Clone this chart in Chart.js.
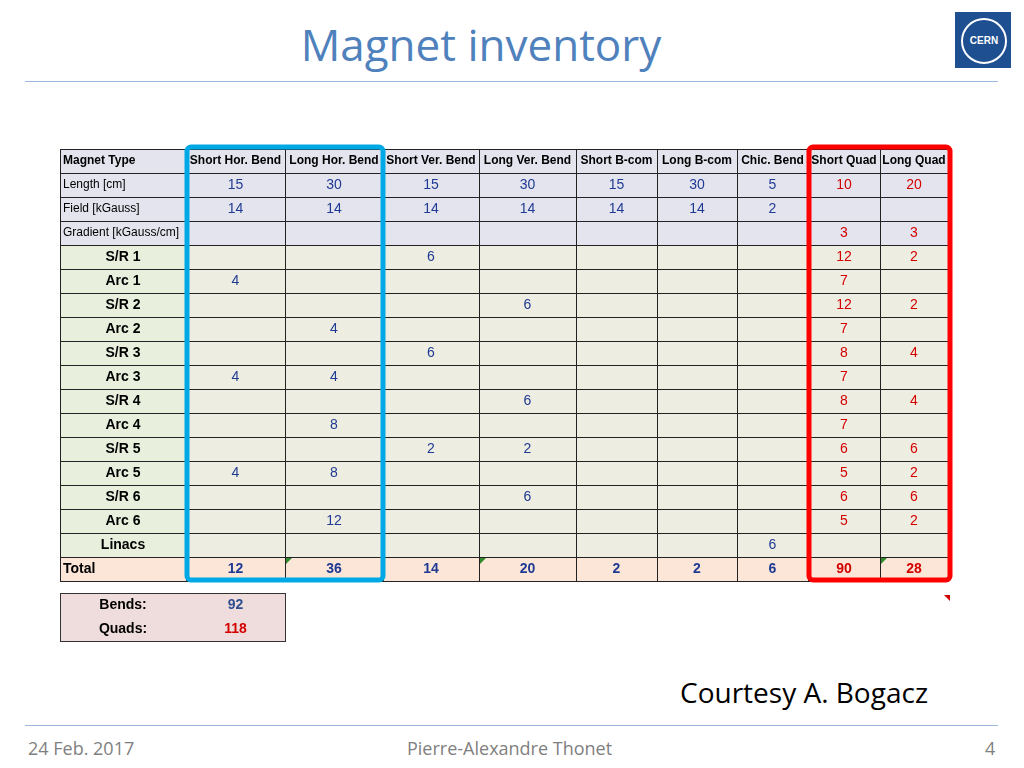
<!DOCTYPE html>
<html>
<head>
<meta charset="utf-8">
<script src="https://cdn.jsdelivr.net/npm/chart.js@4"></script>
<style>
  body { margin: 0; width: 1024px; height: 768px; background: #fff; font-family: "Open Sans", sans-serif; position: relative; overflow: hidden; }
  #wrap { position: absolute; left: 0; top: 0; width: 1024px; height: 768px; }
  .title { position: absolute; left: 0; width: 962px; top: 14px; text-align: center; font-size: 44px; color: #4f81bd; }
  .rule { position: absolute; left: 25px; width: 973px; height: 1px; background: #9bb7db; }
  .foot { position: absolute; top: 736px; font-size: 18px; color: #7f7f7f; }
  .courtesy { position: absolute; left: 680px; top: 673px; font-size: 28px; color: #000; }
  .logo { position: absolute; left: 955px; top: 12px; width: 56px; height: 56px; background: #1d4f91; }
  .logo div { position: absolute; left: 6px; top: 6px; width: 42px; height: 42px; border: 2px solid #fff; border-radius: 50%; color: #fff; font: bold 10px "Liberation Sans"; text-align: center; line-height: 42px; }
</style>
</head>
<body>
<div class="title">Magnet inventory</div>
<div class="logo"><div>CERN</div></div>
<div class="rule" style="top:81px"></div>
<div class="rule" style="top:725px"></div>
<div class="courtesy">Courtesy A. Bogacz</div>
<div class="foot" style="left:28px">24 Feb. 2017</div>
<div class="foot" style="left:407px">Pierre-Alexandre Thonet</div>
<div class="foot" style="left:985px">4</div>
<div id="wrap"><canvas id="c" width="1024" height="768"></canvas></div>
<script>
const columns = ['Short Hor. Bend', 'Long Hor. Bend', 'Short Ver. Bend', 'Long Ver. Bend', 'Short B-com', 'Long B-com', 'Chic. Bend', 'Short Quad', 'Long Quad'];
const lengthCm = [15, 30, 15, 30, 15, 30, 5, 10, 20];
const fieldKGauss = [14, 14, 14, 14, 14, 14, 2, null, null];
const gradient = [null, null, null, null, null, null, null, 3, 3];
const sections = ['S/R 1', 'Arc 1', 'S/R 2', 'Arc 2', 'S/R 3', 'Arc 3', 'S/R 4', 'Arc 4', 'S/R 5', 'Arc 5', 'S/R 6', 'Arc 6', 'Linacs'];
const counts = [
  [null, null, 6, null, null, null, null, 12, 2],
  [4, null, null, null, null, null, null, 7, null],
  [null, null, null, 6, null, null, null, 12, 2],
  [null, 4, null, null, null, null, null, 7, null],
  [null, null, 6, null, null, null, null, 8, 4],
  [4, 4, null, null, null, null, null, 7, null],
  [null, null, null, 6, null, null, null, 8, 4],
  [null, 8, null, null, null, null, null, 7, null],
  [null, null, 2, 2, null, null, null, 6, 6],
  [4, 8, null, null, null, null, null, 5, 2],
  [null, null, null, 6, null, null, null, 6, 6],
  [null, 12, null, null, null, null, null, 5, 2],
  [null, null, null, null, null, null, 6, null, null]
];
const totals = [12, 36, 14, 20, 2, 2, 6, 90, 28];
const summaryLabels = ['Bends:', 'Quads:'];
const summaryValues = [92, 118];

// layout (page pixels)
const colEdges = [60, 186, 285, 383, 479, 576, 657, 737, 808, 880, 948];
const tableTop = 149, rowH = 24;
const NAVY = '#1f3a93', RED = '#d40000';

const tablePlugin = {
  id: 'table',
  afterDatasetsDraw(chart) {
    const ctx = chart.ctx, xs = chart.scales.x, ys = chart.scales.y;
    const X = v => xs.getPixelForValue(v), Y = v => ys.getPixelForValue(v);
    const rows = [];
    rows.push({ label: 'Magnet Type', vals: columns, bg: '#e4e4ef', lblFont: 'bold 12px "Liberation Sans"', head: true });
    rows.push({ label: 'Length [cm]', vals: lengthCm, bg: '#e4e4ef', lblFont: '12px "Liberation Sans"' });
    rows.push({ label: 'Field [kGauss]', vals: fieldKGauss, bg: '#e4e4ef', lblFont: '12px "Liberation Sans"' });
    rows.push({ label: 'Gradient [kGauss/cm]', vals: gradient, bg: '#e4e4ef', lblFont: '12px "Liberation Sans"' });
    sections.forEach((s, i) => rows.push({ label: s, vals: counts[i], bg: '#eeede2', lblBg: '#e8efdc', lblFont: 'bold 14px "Liberation Sans"', center: true }));
    rows.push({ label: 'Total', vals: totals, bg: '#fce6d8', lblFont: 'bold 14px "Liberation Sans"', bold: true });

    ctx.save();
    rows.forEach((r, ri) => {
      const y0 = Y(tableTop + ri * rowH), y1 = Y(tableTop + (ri + 1) * rowH), ym = (y0 + y1) / 2;
      for (let c = 0; c < colEdges.length - 1; c++) {
        const x0 = X(colEdges[c]), x1 = X(colEdges[c + 1]);
        ctx.fillStyle = c === 0 && r.lblBg ? r.lblBg : r.bg;
        ctx.fillRect(x0, y0, x1 - x0, y1 - y0);
        ctx.strokeStyle = '#222'; ctx.lineWidth = 1;
        ctx.strokeRect(x0 + 0.5, y0 + 0.5, x1 - x0, y1 - y0);
        ctx.textBaseline = 'middle';
        if (c === 0) {
          ctx.fillStyle = '#000'; ctx.font = r.lblFont;
          ctx.textAlign = r.center ? 'center' : 'left';
          ctx.fillText(r.label, r.center ? (x0 + x1) / 2 : x0 + 3, ym);
        } else {
          const v = r.vals[c - 1];
          if (v === null || v === undefined) continue;
          ctx.textAlign = 'center';
          if (r.head) { ctx.fillStyle = '#000'; ctx.font = 'bold 12px "Liberation Sans"'; }
          else {
            ctx.fillStyle = c >= 8 ? RED : NAVY;
            ctx.font = (r.bold ? 'bold 14px' : '14px') + ' "Liberation Sans"';
          }
          ctx.fillText(String(v), (x0 + x1) / 2, ym + (r.head ? 0 : 0));
        }
      }
    });
    // green comment marks in total row
    const totY = Y(tableTop + (rows.length - 1) * rowH);
    ctx.fillStyle = '#2e8b2e';
    [285, 479, 880].forEach(e => {
      ctx.beginPath(); ctx.moveTo(X(e) + 1, totY + 1); ctx.lineTo(X(e) + 7, totY + 1); ctx.lineTo(X(e) + 1, totY + 7); ctx.fill();
    });
    // summary box
    const sTop = 593;
    summaryLabels.forEach((l, i) => {
      const y0 = Y(sTop + i * rowH), y1 = Y(sTop + (i + 1) * rowH), ym = (y0 + y1) / 2;
      ctx.fillStyle = '#efdcdc';
      ctx.fillRect(X(60), y0, X(285) - X(60), y1 - y0);
      ctx.font = 'bold 14px "Liberation Sans"'; ctx.textAlign = 'center'; ctx.textBaseline = 'middle';
      ctx.fillStyle = '#000'; ctx.fillText(l, (X(60) + X(186)) / 2, ym);
      ctx.fillStyle = i === 0 ? '#2f4f8f' : RED; ctx.fillText(String(summaryValues[i]), (X(186) + X(285)) / 2, ym);
    });
    ctx.strokeStyle = '#333'; ctx.lineWidth = 1;
    ctx.strokeRect(X(60) + 0.5, Y(sTop) + 0.5, X(285) - X(60), Y(sTop + 2 * rowH) - Y(sTop));
    // red marker
    ctx.fillStyle = RED;
    ctx.beginPath(); ctx.moveTo(X(944), Y(595)); ctx.lineTo(X(950), Y(595)); ctx.lineTo(X(950), Y(601)); ctx.fill();
    // highlight frames
    const tBot = tableTop + rows.length * rowH;
    const frame = (a, b, col) => {
      ctx.strokeStyle = col; ctx.lineWidth = 5;
      ctx.beginPath();
      ctx.roundRect(X(a), Y(tableTop - 2), X(b) - X(a), Y(tBot - 1) - Y(tableTop - 2), 4);
      ctx.stroke();
    };
    frame(187, 383, '#00a9e6');
    frame(809, 950, '#ff0000');
    ctx.restore();
  }
};

new Chart(document.getElementById('c'), {
  type: 'scatter',
  data: { datasets: [{ data: [], pointRadius: 0 }] },
  options: {
    responsive: false,
    animation: false,
    events: [],
    layout: { padding: 0 },
    plugins: { legend: { display: false }, tooltip: { enabled: false } },
    scales: {
      x: { type: 'linear', min: 0, max: 1024, display: false },
      y: { type: 'linear', min: 0, max: 768, reverse: true, display: false }
    }
  },
  plugins: [tablePlugin]
});
</script>
</body>
</html>
